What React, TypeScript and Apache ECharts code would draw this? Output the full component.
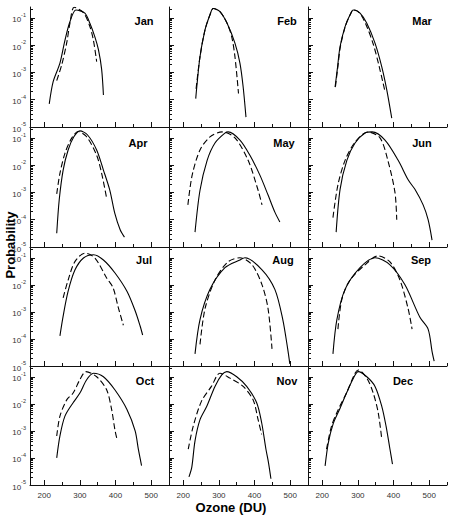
import React, { useEffect, useRef } from 'react';
import * as echarts from 'echarts';

const months = ['Jan', 'Feb', 'Mar', 'Apr', 'May', 'Jun', 'Jul', 'Aug', 'Sep', 'Oct', 'Nov', 'Dec'];

const xTickLabels = [200, 300, 400, 500];
const xMinorTicks = [250, 350, 450, 550];
const yDecades = [1e-5, 1e-4, 1e-3, 1e-2, 1e-1];
const yMinorMult = [2, 3, 4, 5, 6, 7, 8, 9];

// solid: one data set, dashed: the other
const janSolid = [[214, 7e-5], [225, 4.6e-4], [244, 2.2e-3], [258, 0.015], [272, 0.072], [289, 0.195], [314, 0.148], [328, 0.063], [342, 0.02], [352, 6.8e-3], [361, 1.3e-3], [366, 1.5e-4]];
const janDash = [[235, 5e-4], [249, 1.9e-3], [263, 0.012], [272, 0.063], [284, 0.245], [310, 0.155], [328, 0.048], [338, 0.015], [347, 2.5e-3]];
const febSolid = [[235, 1.1e-4], [238, 3e-4], [247, 3.8e-3], [261, 0.036], [275, 0.13], [284, 0.22], [303, 0.17], [323, 0.063], [345, 0.0118], [359, 2.2e-3], [368, 3e-4], [376, 2.3e-5]];
const febDash = [[236, 2.5e-4], [247, 3.8e-3], [261, 0.036], [275, 0.13], [284, 0.22], [303, 0.17], [323, 0.063], [336, 0.02], [345, 3.8e-3], [355, 1.7e-4]];
const marSolid = [[236, 2.9e-4], [243, 1.6e-3], [250, 8.9e-3], [264, 0.048], [278, 0.13], [287, 0.195], [306, 0.148], [325, 0.063], [348, 0.0118], [367, 1.6e-3], [381, 2.3e-4], [395, 2.1e-5]];
const marDash = [[237, 3e-4], [244, 1.7e-3], [251, 9e-3], [265, 0.05], [279, 0.135], [288, 0.2], [305, 0.15], [322, 0.06], [343, 0.011], [360, 1.6e-3], [376, 2e-4]];
const aprSolid = [[235, 3.2e-5], [242, 5.4e-4], [253, 6.6e-3], [267, 0.036], [283, 0.11], [300, 0.18], [321, 0.13], [347, 0.036], [366, 6.6e-3], [384, 1.2e-3], [398, 1.7e-4], [413, 4.3e-5], [425, 2.3e-5]];
const aprDash = [[235, 8.9e-4], [244, 5e-3], [258, 0.027], [277, 0.098], [295, 0.17], [319, 0.11], [347, 0.023], [361, 5e-3], [375, 6.2e-4]];
const maySolid = [[233, 3.5e-5], [247, 1.2e-3], [267, 0.015], [289, 0.065], [317, 0.15], [326, 0.165], [359, 0.083], [387, 0.023], [415, 4.3e-3], [438, 8e-4], [457, 1.9e-4], [471, 8.3e-5]];
const mayDash = [[213, 3.5e-4], [225, 4.3e-3], [247, 0.036], [275, 0.108], [309, 0.165], [345, 0.1], [382, 0.015], [410, 1.2e-3], [421, 3.5e-4]];
const junSolid = [[239, 3.5e-5], [250, 1.3e-3], [269, 0.015], [292, 0.065], [320, 0.15], [340, 0.165], [376, 0.083], [413, 0.015], [441, 2.9e-3], [460, 1.3e-3], [483, 3.5e-4], [497, 1e-4], [508, 1.8e-5]];
const junDash = [[230, 1.2e-4], [244, 1.9e-3], [264, 0.015], [292, 0.07], [328, 0.165], [362, 0.1], [384, 0.015], [404, 1e-3], [409, 1e-4]];
const julSolid = [[244, 1.3e-4], [253, 7e-4], [267, 5.8e-3], [286, 0.035], [310, 0.098], [338, 0.13], [366, 0.083], [398, 0.028], [432, 5.8e-3], [455, 1.1e-3], [469, 3e-4], [476, 1.4e-4]];
const julDash = [[253, 3.3e-3], [267, 0.015], [286, 0.072], [314, 0.148], [342, 0.098], [375, 0.018], [393, 7.8e-3], [408, 1.4e-3], [422, 3.2e-4]];
const augSolid = [[233, 2.8e-5], [247, 5.2e-4], [275, 6.8e-3], [317, 0.043], [359, 0.083], [373, 0.1], [421, 0.036], [457, 6.8e-3], [479, 5.4e-4], [493, 4.3e-5], [499, 1.2e-5]];
const augDash = [[247, 6.3e-5], [261, 1.3e-3], [289, 0.015], [325, 0.07], [359, 0.1], [393, 0.055], [421, 0.01], [438, 1.3e-3], [449, 4.3e-5]];
const sepSolid = [[230, 2.8e-5], [241, 5.2e-4], [264, 6.8e-3], [306, 0.043], [348, 0.1], [390, 0.055], [432, 0.01], [474, 6.3e-4], [497, 2.3e-4], [508, 3.5e-5], [514, 1.5e-5]];
const sepDash = [[244, 2.3e-4], [255, 2.9e-3], [278, 0.015], [320, 0.055], [356, 0.117], [390, 0.07], [418, 0.015], [441, 1.3e-3], [452, 2.3e-4]];
const octSolid = [[235, 1e-4], [244, 6.5e-4], [258, 3.5e-3], [281, 0.011], [300, 0.025], [319, 0.078], [338, 0.135], [366, 0.1], [398, 0.033], [432, 6.2e-3], [455, 1e-3], [464, 2.1e-4], [473, 5.2e-5]];
const octDash = [[235, 6.5e-4], [244, 3.5e-3], [263, 0.014], [281, 0.025], [300, 0.078], [317, 0.155], [347, 0.1], [375, 0.033], [389, 6.2e-3], [398, 1.15e-3], [405, 4.3e-4]];
const novSolid = [[216, 2e-5], [224, 4.6e-5], [233, 4.3e-4], [247, 2.6e-3], [266, 8.1e-3], [289, 0.044], [308, 0.117], [322, 0.155], [350, 0.1], [378, 0.044], [406, 0.011], [420, 2e-3], [432, 2.1e-4], [439, 6.9e-5], [446, 1.7e-5]];
const novDash = [[214, 2.1e-4], [228, 1.5e-3], [251, 0.0123], [279, 0.044], [303, 0.135], [331, 0.089], [368, 0.044], [396, 0.014], [410, 2.6e-3], [420, 7.4e-4]];
const decSolid = [[208, 5.1e-5], [217, 3.6e-4], [231, 1.9e-3], [250, 6.9e-3], [268, 0.025], [287, 0.087], [301, 0.155], [325, 0.1], [348, 0.044], [367, 8.1e-3], [379, 1.5e-3], [390, 2.1e-4], [397, 5.9e-5]];
const decDash = [[212, 2.1e-4], [226, 1.5e-3], [245, 6.2e-3], [268, 0.025], [292, 0.135], [301, 0.178], [325, 0.089], [343, 0.025], [357, 4.7e-3], [367, 5e-4]];

const solidSets = [janSolid, febSolid, marSolid, aprSolid, maySolid, junSolid, julSolid, augSolid, sepSolid, octSolid, novSolid, decSolid];
const dashSets = [janDash, febDash, marDash, aprDash, mayDash, junDash, julDash, augDash, sepDash, octDash, novDash, decDash];

const colLefts = [30, 169, 308];
const colWidth = 139;
const rowTops = [7, 127, 247, 366];
const rowHeights = [120, 120, 119, 119];
const labelX = [144, 287, 422, 138, 284, 422, 144, 283, 421, 145, 287, 403];
const labelY = [21, 143, 260, 381];

const FONT = '"Liberation Sans", Arial, sans-serif';

export default function App() {
  const ref = useRef<HTMLDivElement>(null);
  useEffect(() => {
    if (!ref.current) return;
    const chart = echarts.init(ref.current, null, { renderer: 'svg' });
    const yMinor: number[] = [];
    yDecades.forEach((d) => yMinorMult.forEach((m) => { if (m * d < 0.25) yMinor.push(m * d); }));

    const grid: any[] = [];
    const xAxis: any[] = [];
    const yAxis: any[] = [];
    const series: any[] = [];
    const graphic: any[] = [];
    const lineCol = '#111';
    months.forEach((mo, i) => {
      const r = Math.floor(i / 3);
      const c = i % 3;
      grid.push({ left: colLefts[c], top: rowTops[r], width: colWidth, height: rowHeights[r] });
    });
    months.forEach((mo, i) => {
      const r = Math.floor(i / 3);
      xAxis.push({
        type: 'value', gridIndex: i, min: 160, max: 550, position: 'bottom',
        axisLine: { show: true, lineStyle: { color: lineCol, width: 1 } },
        axisTick: { show: true, inside: true, length: 5, customValues: xTickLabels, lineStyle: { color: lineCol } },
        axisLabel: { show: r === 3, customValues: xTickLabels, fontSize: 8, color: '#333', margin: 6, fontFamily: FONT },
        splitLine: { show: false },
      });
    });
    months.forEach((mo, i) => {
      xAxis.push({
        type: 'value', gridIndex: i, min: 160, max: 550, position: 'bottom',
        axisLine: { show: false },
        axisTick: { show: true, inside: true, length: 3, customValues: xMinorTicks, lineStyle: { color: lineCol } },
        axisLabel: { show: false },
        splitLine: { show: false },
      });
    });
    months.forEach((mo, i) => {
      const c = i % 3;
      yAxis.push({
        type: 'log', logBase: 10, gridIndex: i, min: 1e-5, max: 0.25, position: 'left',
        axisLine: { show: true, lineStyle: { color: lineCol, width: 1 } },
        axisTick: { show: true, inside: true, length: 5, customValues: yDecades, lineStyle: { color: lineCol } },
        axisLabel: {
          show: c === 0, customValues: yDecades, margin: 4, color: '#333', fontFamily: FONT,
          formatter: (v: number) => '{b|10}{s|' + Math.round(Math.log10(v)) + '}',
          rich: {
            b: { fontSize: 8, color: '#333', fontFamily: FONT, verticalAlign: 'bottom', lineHeight: 12 },
            s: { fontSize: 5.5, color: '#333', fontFamily: FONT, verticalAlign: 'top', lineHeight: 12 },
          },
        },
        splitLine: { show: false },
      });
    });
    months.forEach((mo, i) => {
      yAxis.push({
        type: 'log', logBase: 10, gridIndex: i, min: 1e-5, max: 0.25, position: 'left',
        axisLine: { show: false },
        axisTick: { show: true, inside: true, length: 3, customValues: yMinor, lineStyle: { color: lineCol } },
        axisLabel: { show: false },
        splitLine: { show: false },
      });
    });
    months.forEach((mo, i) => {
      series.push({
        type: 'line', xAxisIndex: i, yAxisIndex: i, data: solidSets[i], symbol: 'none', smooth: 0.3,
        lineStyle: { color: '#000', width: 1.1 }, silent: true,
      });
      series.push({
        type: 'line', xAxisIndex: i, yAxisIndex: i, data: dashSets[i], symbol: 'none', smooth: 0.3,
        lineStyle: { color: '#000', width: 1.1, type: [6, 3] }, silent: true,
      });
      const r = Math.floor(i / 3);
      graphic.push({
        type: 'text', x: labelX[i], y: labelY[r],
        style: { text: mo, font: 'bold 11px ' + FONT, fill: '#000', textAlign: 'center', textVerticalAlign: 'middle' },
      });
    });
    graphic.push({
      type: 'text', x: 10, y: 245, rotation: Math.PI / 2,
      style: { text: 'Probability', font: 'bold 13px ' + FONT, fill: '#000', textAlign: 'center', textVerticalAlign: 'middle' },
    });
    graphic.push({
      type: 'text', x: 231, y: 507,
      style: { text: 'Ozone (DU)', font: 'bold 13px ' + FONT, fill: '#000', textAlign: 'center', textVerticalAlign: 'middle' },
    });

    chart.setOption({ animation: false, backgroundColor: '#fff', grid, xAxis, yAxis, series, graphic });
    return () => chart.dispose();
  }, []);
  return <div ref={ref} style={{ position: 'fixed', left: 0, top: 0, width: 455, height: 516 }} />;
}
